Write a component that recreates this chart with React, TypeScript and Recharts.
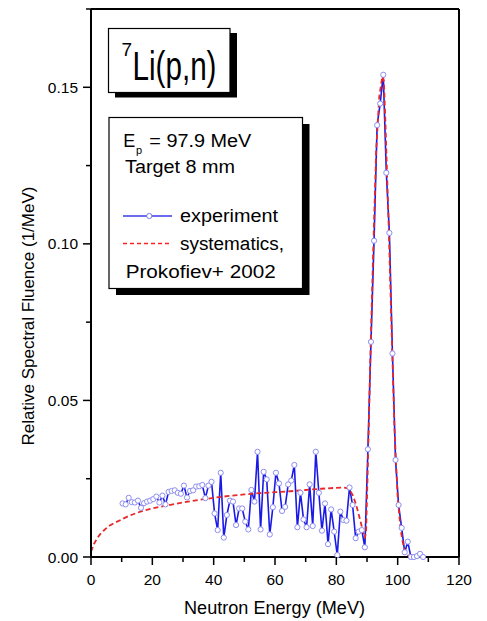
import { Line, LineChart, XAxis, YAxis } from "recharts";

const FONT = "'Liberation Sans', Arial, sans-serif";

// measured spectrum (MeV, 1/MeV)
const expEnergy = [
  10.3, 11.3, 12.3, 13.3, 14.3, 15.3, 16.3, 17.3, 18.3, 19.3, 20.3, 21.3, 22.3,
  23.3, 24.3, 25.3, 26.3, 27.3, 28.3, 29.3, 30.3, 31.3, 32.3, 33.3, 34.3, 35.3,
  36.3, 37.3, 38.3, 39.3, 40.3, 41.3, 42.3, 43.3, 44.3, 45.3, 46.3, 47.3, 48.3,
  49.3, 50.3, 51.3, 52.3, 53.3, 54.3, 55.3, 56.3, 57.3, 58.3, 59.3, 60.3, 61.3,
  62.3, 63.3, 64.3, 65.3, 66.3, 67.3, 68.3, 69.3, 70.3, 71.3, 72.3, 73.3, 74.3,
  75.3, 76.3, 77.3, 78.3, 79.3, 80.3, 81.3, 82.3, 83.3, 84.3, 85.3, 86.3, 87.3,
  88.3, 89.3, 90.3, 91.3, 92.3, 93.3, 94.3, 95.3, 96.3, 97.3, 98.3, 99.3,
  100.3, 101.3, 102.3, 103.3, 104.3, 105.3, 106.3, 107.3, 108.3,
];
const expValue = [
  0.0171, 0.0168, 0.0189, 0.0175, 0.0174, 0.018, 0.0157, 0.0172, 0.0177, 0.018,
  0.0185, 0.0193, 0.0174, 0.0196, 0.0168, 0.0208, 0.0211, 0.0213, 0.0205,
  0.0202, 0.0228, 0.019, 0.0211, 0.0213, 0.0225, 0.0226, 0.023, 0.0188, 0.0228,
  0.024, 0.0139, 0.0086, 0.0269, 0.0062, 0.0134, 0.018, 0.0177, 0.0102, 0.0155,
  0.0155, 0.0113, 0.0088, 0.0214, 0.0177, 0.0336, 0.0088, 0.0272, 0.0248,
  0.0072, 0.0159, 0.0269, 0.0235, 0.0147, 0.016, 0.0232, 0.0244, 0.0294, 0.0095,
  0.0205, 0.012, 0.0095, 0.0232, 0.0099, 0.0336, 0.0205, 0.0084, 0.0171, 0.0041,
  0.0152, 0.0081, 0.0006, 0.0145, 0.0118, 0.0116, 0.0222, 0.0166, 0.006, 0.0081,
  0.0086, 0.0031, 0.0344, 0.0687, 0.101, 0.1379, 0.1448, 0.154, 0.1227, 0.1035,
  0.065, 0.031, 0.0166, 0.0093, 0.0015, 0.0049, 0, 0, 0.0003, 0.001, 0,
];

// Prokofiev+ 2002 systematics
const sysEnergy = [
  0, 1, 2, 3, 4, 5, 6, 7.5, 10, 12.5, 15, 17.5, 20, 22.5, 25, 30, 35, 40, 45, 50,
  55, 60, 65, 70, 75, 80, 82, 83.5, 84.5, 85.5, 86.5, 87.5, 88.5, 89.3, 89.7,
  90.3, 91, 92, 93, 94, 95, 95.5, 96, 97, 98, 99, 100, 101, 102, 103, 104,
];
const sysValue = [
  0.0017, 0.0042, 0.006, 0.0073, 0.0083, 0.0092, 0.01, 0.0108, 0.012, 0.0132,
  0.0141, 0.0149, 0.0155, 0.016, 0.0165, 0.0174, 0.0182, 0.0189, 0.0195, 0.02,
  0.0204, 0.0207, 0.021, 0.0214, 0.0218, 0.0221, 0.0222, 0.022, 0.0212, 0.0195,
  0.0165, 0.0128, 0.009, 0.006, 0.008, 0.03, 0.06, 0.097, 0.13, 0.147, 0.1535,
  0.152, 0.139, 0.108, 0.073, 0.04, 0.019, 0.0085, 0.003, 0.0008, 0,
];

const xTicks = [0, 10, 20, 30, 40, 50, 60, 70, 80, 90, 100, 110, 120];
const xMajor = [0, 20, 40, 60, 80, 100, 120];
const yTicks = [0, 0.025, 0.05, 0.075, 0.1, 0.125, 0.15, 0.175];
const yMajor = [0, 0.05, 0.1, 0.15];
const yLabels = ["0.00", "0.05", "0.10", "0.15"];

const expData = expEnergy.map((e, i) => ({ e, v: expValue[i] }));
const sysData = sysEnergy.map((e, i) => ({ e, v: sysValue[i] }));

const isMajorX = (v: number) => xMajor.includes(v);
const majorYIndex = (v: number) => yMajor.findIndex((m) => Math.abs(m - v) < 1e-6);

const BottomTick = ({ x, y, payload }: any) => {
  const major = isMajorX(payload.value);
  return (
    <g>
      <line x1={x} x2={x} y1={y} y2={y + (major ? 8 : 5)} stroke="#000" strokeWidth={1.5} />
      {major && (
        <text x={x} y={y + 28} textAnchor="middle" fontSize={15.5} fontFamily={FONT} fill="#000">
          {payload.value}
        </text>
      )}
    </g>
  );
};

const TopTick = ({ x, y, payload }: any) => (
  <line x1={x} x2={x} y1={y} y2={y + (isMajorX(payload.value) ? 7 : 5)} stroke="#000" strokeWidth={1.5} />
);

const LeftTick = ({ x, y, payload }: any) => {
  const idx = majorYIndex(payload.value);
  return (
    <g>
      <line x1={x} x2={x - (idx >= 0 ? 8 : 5)} y1={y} y2={y} stroke="#000" strokeWidth={1.5} />
      {idx >= 0 && (
        <text x={x - 13} y={y + 5.5} textAnchor="end" fontSize={15.5} fontFamily={FONT} fill="#000">
          {yLabels[idx]}
        </text>
      )}
    </g>
  );
};

const RightTick = ({ x, y, payload }: any) => (
  <line x1={x} x2={x - (majorYIndex(payload.value) >= 0 ? 8 : 5)} y1={y} y2={y} stroke="#000" strokeWidth={1.5} />
);

const axisLine = { stroke: "#000", strokeWidth: 2 };

function Annotations() {
  return (
    <svg
      width={487}
      height={621}
      style={{ position: "absolute", left: 0, top: 0, pointerEvents: "none" }}
      fontFamily={FONT}
    >
      {/* reaction box */}
      <rect x={115} y={33} width={122} height={64.5} fill="#000" />
      <rect x={108.5} y={28.5} width={121.5} height={64} fill="#fff" stroke="#000" strokeWidth={1.2} />
      <text x={121.5} y={56} fontSize={19} fill="#000">7</text>
      <text x={132.5} y={80} fontSize={40} textLength={84} lengthAdjust="spacingAndGlyphs" fill="#000">
        Li(p,n)
      </text>

      {/* info / legend box */}
      <rect x={116} y={124} width={193.5} height={171} fill="#000" />
      <rect x={109} y={117.5} width={193.5} height={171} fill="#fff" stroke="#000" strokeWidth={1.2} />
      <text x={123.3} y={146.7} fontSize={18} fill="#000">E</text>
      <text x={136} y={154} fontSize={11} fill="#000">p</text>
      <text x={149.3} y={146.7} fontSize={18} textLength={102} lengthAdjust="spacingAndGlyphs" fill="#000">
        = 97.9 MeV
      </text>
      <text x={125} y={173.3} fontSize={18} textLength={110} lengthAdjust="spacingAndGlyphs" fill="#000">
        Target 8 mm
      </text>
      <line x1={123} x2={172} y1={216} y2={216} stroke="#3a3ae6" strokeWidth={1.3} />
      <circle cx={149.3} cy={216} r={2.6} fill="#fff" stroke="#7c7cee" strokeWidth={1} />
      <text x={180} y={222.3} fontSize={18} textLength={98} lengthAdjust="spacingAndGlyphs" fill="#000">
        experiment
      </text>
      <line x1={123} x2={172} y1={243.5} y2={243.5} stroke="#ff2020" strokeWidth={1.3} strokeDasharray="4 3" />
      <text x={180} y={249.5} fontSize={18} textLength={104} lengthAdjust="spacingAndGlyphs" fill="#000">
        systematics,
      </text>
      <text x={125.7} y={278.3} fontSize={18} textLength={150} lengthAdjust="spacingAndGlyphs" fill="#000">
        Prokofiev+ 2002
      </text>

      {/* axis titles */}
      <text x={184} y={614} fontSize={17.5} textLength={181} lengthAdjust="spacingAndGlyphs" fill="#000">
        Neutron Energy (MeV)
      </text>
      <text
        x={0}
        y={0}
        transform="translate(34 316) rotate(-90)"
        textAnchor="middle"
        fontSize={17}
        fill="#000"
      >
        Relative Spectral Fluence (1/MeV)
      </text>
    </svg>
  );
}

export default function App() {
  return (
    <div style={{ position: "absolute", left: 0, top: 0, width: 487, height: 621, background: "#fff" }}>
      <LineChart width={487} height={621} margin={{ top: 0, right: 0, bottom: 0, left: 0 }}>
        <XAxis
          xAxisId="b"
          type="number"
          dataKey="e"
          domain={[0, 120]}
          ticks={xTicks}
          interval={0}
          height={64}
          tickSize={0}
          tickMargin={0}
          tickLine={false}
          axisLine={axisLine}
          tick={<BottomTick />}
        />
        <XAxis
          xAxisId="t"
          orientation="top"
          type="number"
          dataKey="e"
          domain={[0, 120]}
          ticks={xTicks}
          interval={0}
          height={9}
          tickSize={0}
          tickMargin={0}
          tickLine={false}
          axisLine={axisLine}
          tick={<TopTick />}
        />
        <YAxis
          yAxisId="l"
          type="number"
          domain={[0, 0.175]}
          ticks={yTicks}
          interval={0}
          width={91}
          tickSize={0}
          tickMargin={0}
          tickLine={false}
          axisLine={axisLine}
          tick={<LeftTick />}
        />
        <YAxis
          yAxisId="r"
          orientation="right"
          type="number"
          domain={[0, 0.175]}
          ticks={yTicks}
          interval={0}
          width={28}
          tickSize={0}
          tickMargin={0}
          tickLine={false}
          axisLine={axisLine}
          tick={<RightTick />}
        />
        <Line
          xAxisId="b"
          yAxisId="l"
          data={expData}
          dataKey="v"
          type="linear"
          stroke="#1a1ae6"
          strokeWidth={1.6}
          dot={{ r: 2.6, stroke: "#8e8ef0", strokeWidth: 1, fill: "#fff" }}
          isAnimationActive={false}
        />
        <Line
          xAxisId="b"
          yAxisId="l"
          data={sysData}
          dataKey="v"
          type="linear"
          stroke="#e8282b"
          strokeWidth={1.8}
          strokeDasharray="5 3"
          dot={false}
          isAnimationActive={false}
        />
      </LineChart>
      <Annotations />
    </div>
  );
}
